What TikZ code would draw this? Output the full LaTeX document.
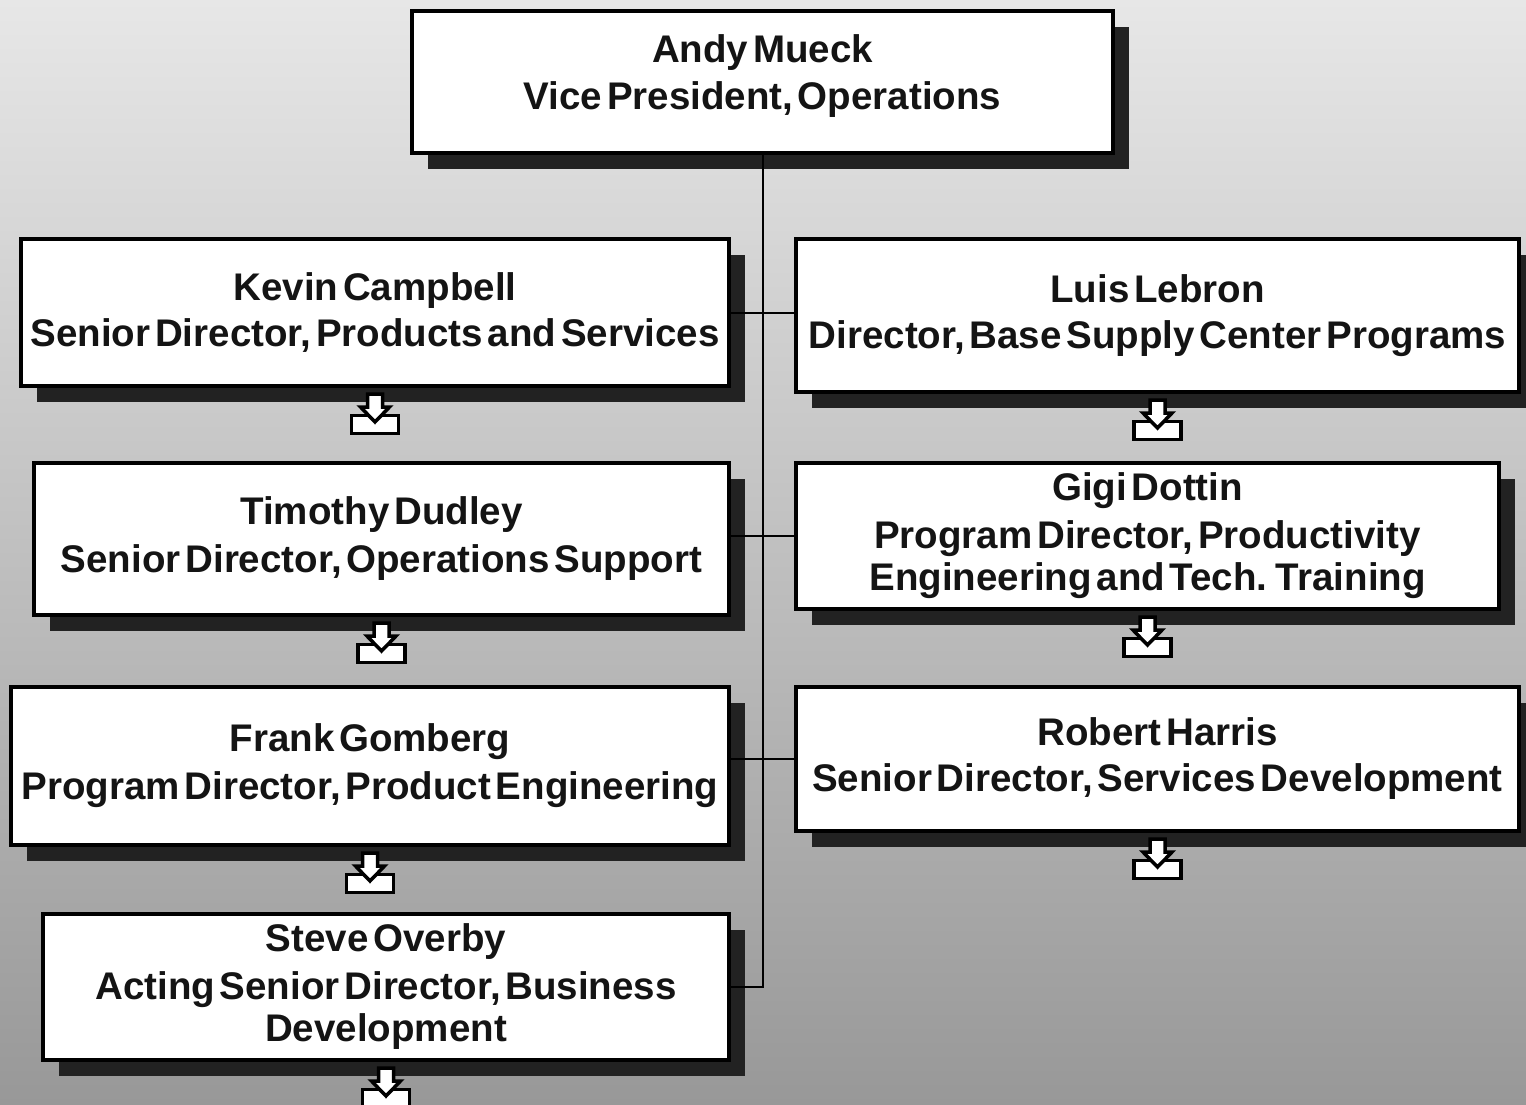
\documentclass[tikz,border=0pt]{standalone}
\usepackage{fontspec}
\setmainfont{Liberation Sans}[WordSpace={0.45}]
\usetikzlibrary{shadows}
\definecolor{txt}{HTML}{141414}
\definecolor{shd}{HTML}{222222}
\tikzset{
  box/.style={draw=black, line width=4pt, fill=white, inner sep=0pt, align=center,
    text=txt, font=\fontsize{38.5}{42}\selectfont\bfseries,
    drop shadow={shadow xshift=16pt, shadow yshift=-16pt, fill=shd, opacity=1}},
  link/.style={draw=black, line width=2pt},
  iconline/.style={draw=black, line width=3.5pt, fill=white, line join=miter},
  dnicon/.pic={
    \path[iconline] (-23.5,27.5) rectangle (23.5,45.5);
    \path[iconline] (-7.5,6) -- (7.5,6) -- (7.5,19) -- (14.5,19) -- (0,34) -- (-14.5,19) -- (-7.5,19) -- cycle;
  }
}
\begin{document}
\begin{tikzpicture}[x=1pt, y=-1pt]
\useasboundingbox (0,0) rectangle (1526,1105);
\clip (0,0) rectangle (1526,1105);
\shade[top color={rgb,255:red,231;green,231;blue,231}, middle color={rgb,255:red,200;green,200;blue,200}, bottom color={rgb,255:red,152;green,152;blue,152}] (0,0) rectangle (1526,1105);

\node[box, minimum width=701pt, minimum height=142pt] (andy) at (762.5,82) {Andy Mueck\\[5pt]Vice President, Operations\\[-22pt]\mbox{}};
\node[box, minimum width=708pt, minimum height=147pt] (kevin) at (375,312.5) {Kevin Campbell\\[4pt]Senior Director, Products and Services};
\node[box, minimum width=723pt, minimum height=153pt] (luis) at (1157.5,315.5) {Luis Lebron\\[4pt]Director, Base Supply Center Programs};
\node[box, minimum width=695pt, minimum height=152pt] (timothy) at (381.5,539) {Timothy Dudley\\[6pt]Senior Director, Operations Support};
\node[box, minimum width=703pt, minimum height=146pt] (gigi) at (1147.5,536) {Gigi Dottin\\[6pt]Program Director, Productivity\\Engineering and Tech. Training};
\node[box, minimum width=718pt, minimum height=158pt] (frank) at (370,766) {Frank Gomberg\\[6pt]Program Director, Product Engineering};
\node[box, minimum width=723pt, minimum height=144pt] (robert) at (1157.5,759) {Robert Harris\\[4pt]Senior Director, Services Development};
\node[box, minimum width=686pt, minimum height=146pt] (steve) at (386,987) {Steve Overby\\[6pt]Acting Senior Director, Business\\Development};

\coordinate (vend) at (andy.south |- steve.east);
\draw[link] (andy.south) -- (vend) -- (steve.east);
\draw[link] (kevin.east) -- (kevin.east -| luis.west);
\draw[link] (gigi.west) -- (gigi.west -| timothy.east);
\draw[link] (robert.west) -- (robert.west -| frank.east);

\foreach \n in {kevin,luis,timothy,gigi,frank,robert,steve}
  \pic at (\n.south) {dnicon};
\end{tikzpicture}
\end{document}
